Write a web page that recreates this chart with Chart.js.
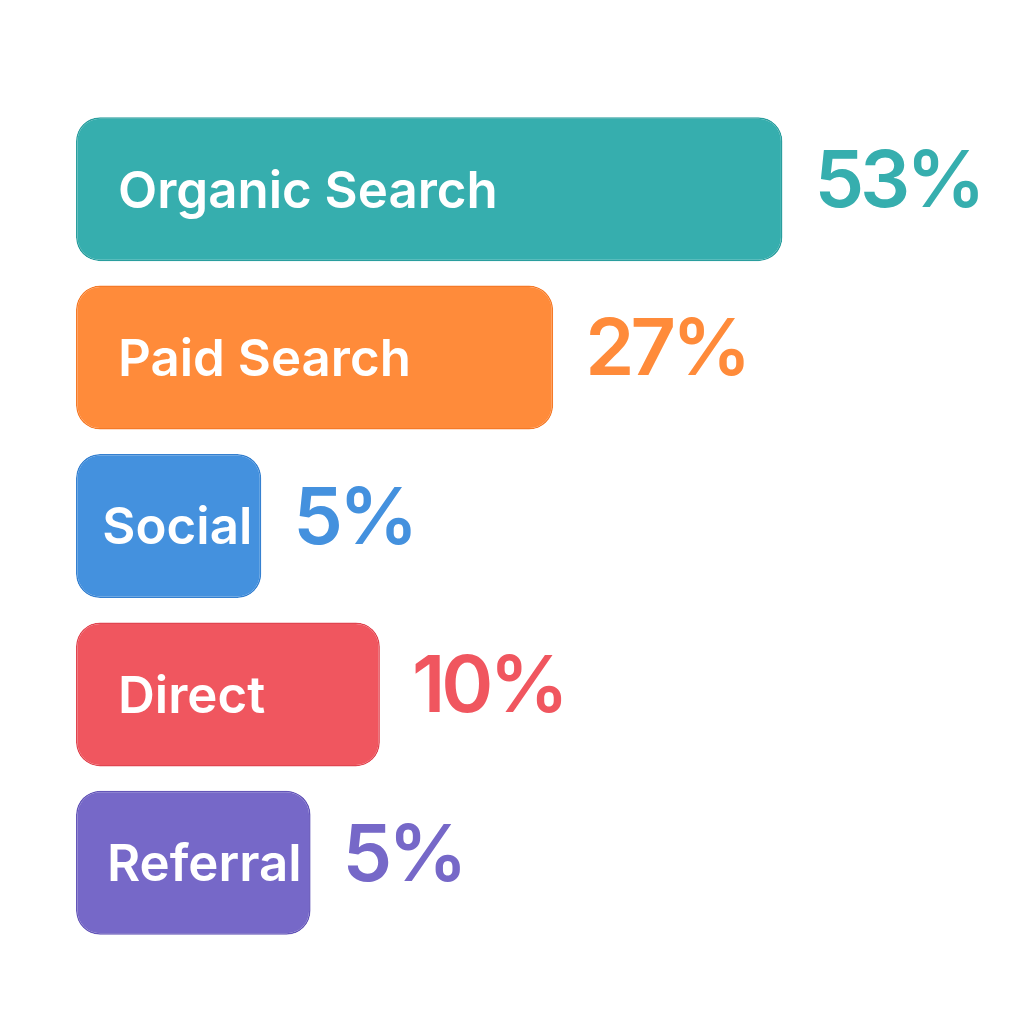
<!DOCTYPE html>
<html>
<head>
<meta charset="utf-8">
<script src="https://cdn.jsdelivr.net/npm/chart.js@4/dist/chart.umd.min.js"></script>
<style>
  html, body { margin: 0; padding: 0; background: #fff; }
  #wrap { width: 1024px; height: 1024px; }
</style>
</head>
<body>
<div id="wrap"><canvas id="trafficChart" width="1024" height="1024"></canvas></div>
<script>
const channels = ['Organic Search', 'Paid Search', 'Social', 'Direct', 'Referral'];
const shareLabels = ['53%', '27%', '5%', '10%', '5%'];
// bar lengths as drawn in the picture (not strictly proportional to the shares)
const barLengths = [53, 35.8, 13.9, 22.8, 17.6];
const fillColors = ['#36AEAE', '#FF8B3A', '#4491DE', '#F0565F', '#7668C8'];
const edgeColors = ['#2A9E9E', '#F57A28', '#3580D0', '#E04550', '#6456B8'];

const barText = {
    id: 'barText',
    afterDatasetsDraw(chart) {
        const ctx = chart.ctx;
        const bars = chart.getDatasetMeta(0).data;
        ctx.save();
        bars.forEach((bar, i) => {
            const left = bar.base;
            const right = bar.x;
            ctx.textBaseline = 'middle';
            ctx.textAlign = 'left';

            ctx.fillStyle = '#ffffff';
            ctx.font = '600 51px Inter';
            ctx.letterSpacing = '0px';
            const w = ctx.measureText(channels[i]).width;
            const pad = Math.min(42, right - left - w - 9);
            ctx.fillText(channels[i], left + pad, bar.y + 3);

            ctx.fillStyle = fillColors[i];
            ctx.font = '600 79px Inter';
            ctx.letterSpacing = '-4px';
            ctx.fillText(shareLabels[i], right + 32, bar.y - 6);
        });
        ctx.restore();
    }
};

const ctx = document.getElementById('trafficChart').getContext('2d');
new Chart(ctx, {
    type: 'bar',
    data: {
        labels: channels,
        datasets: [{
            data: barLengths,
            backgroundColor: fillColors,
            borderColor: edgeColors,
            borderWidth: 1.5,
            borderRadius: 24,
            borderSkipped: false,
            categoryPercentage: 0.855,
            barPercentage: 1
        }]
    },
    options: {
        indexAxis: 'y',
        responsive: false,
        animation: false,
        layout: { padding: { left: 76, right: 15, top: 105, bottom: 77 } },
        plugins: { legend: { display: false }, tooltip: { enabled: false } },
        scales: {
            x: { min: 0, max: 70, display: false },
            y: { display: false }
        }
    },
    plugins: [barText]
});
</script>
</body>
</html>
